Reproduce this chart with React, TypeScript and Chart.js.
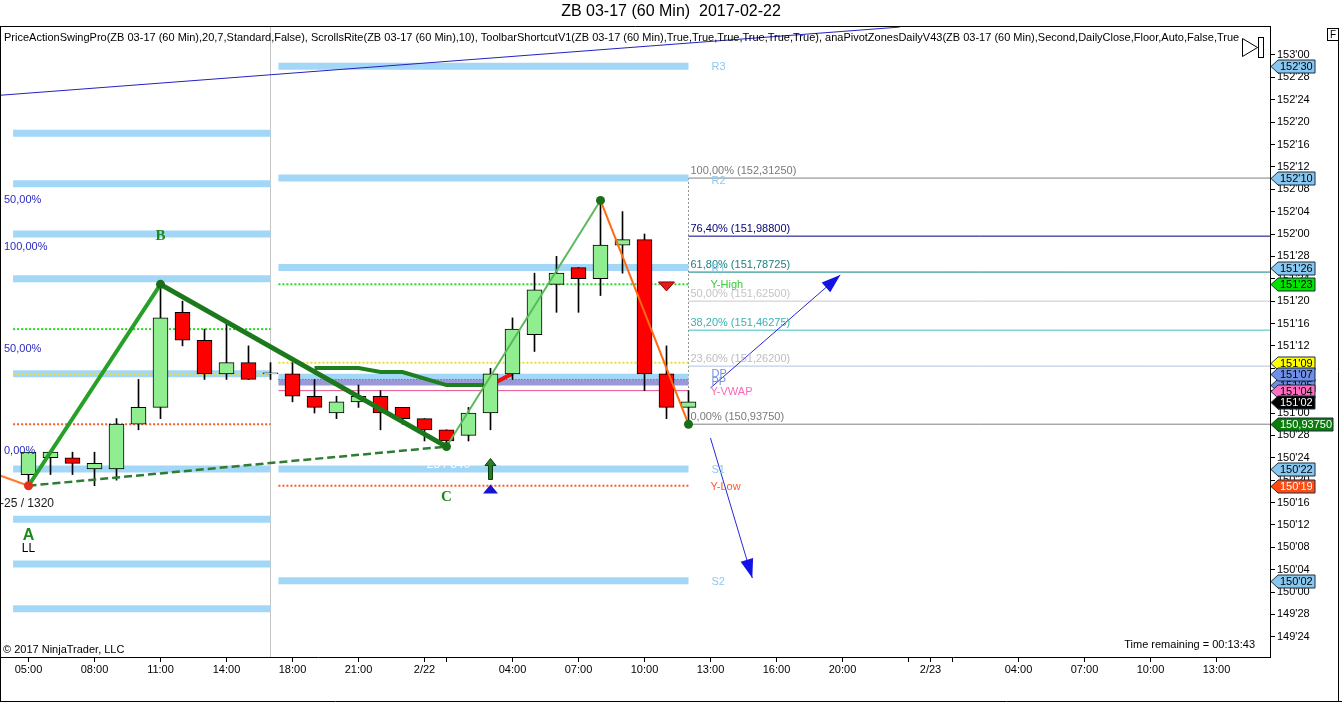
import React, { useEffect, useRef } from "react";
import { Chart, registerables } from "chart.js";

Chart.register(...registerables);

const SANS = "'Liberation Sans', Arial, sans-serif";
const SERIF = "'Liberation Serif', 'Times New Roman', serif";

// ---------- axes ----------
const X_MIN = -1.25;
const X_MAX = 56.432;
const Y_MIN = 149.637;
const Y_MAX = 153.162;

const X_TICK_POS = [0, 3, 6, 9, 12, 15, 18, 19, 22, 25, 28, 31, 34, 37, 40, 41, 42, 45, 48, 51, 54];
const X_TICK_LABELS = ["05:00", "08:00", "11:00", "14:00", "18:00", "21:00", "2/22", "", "04:00", "07:00", "10:00", "13:00", "16:00", "20:00", "", "2/23", "", "04:00", "07:00", "10:00", "13:00"];
const Y_TICK_LABELS = ["153'00", "152'28", "152'24", "152'20", "152'16", "152'12", "152'08", "152'04", "152'00", "151'28", "151'24", "151'20", "151'16", "151'12", "151'08", "151'04", "151'00", "150'28", "150'24", "150'20", "150'16", "150'12", "150'08", "150'04", "150'00", "149'28", "149'24"];

// ---------- candles (ZB 03-17, 60 min) ----------
const BAR_TIMES = ["05:00", "06:00", "07:00", "08:00", "09:00", "10:00", "11:00", "12:00", "13:00", "14:00", "15:00", "16:00", "18:00", "19:00", "20:00", "21:00", "22:00", "23:00", "00:00", "01:00", "02:00", "03:00", "04:00", "05:00", "06:00", "07:00", "08:00", "09:00", "10:00", "11:00", "12:00"];
const OPEN = [150.65625, 150.75, 150.75, 150.6875, 150.6875, 150.9375, 151.03125, 151.5625, 151.40625, 151.21875, 151.28125, 151.21875, 151.21875, 151.09375, 151.0, 151.0625, 151.09375, 151.03125, 150.96875, 150.90625, 150.875, 151.0, 151.21875, 151.4375, 151.71875, 151.8125, 151.75, 151.9375, 151.96875, 151.21875, 151.03125];
const HIGH = [150.78125, 150.78125, 150.78125, 150.78125, 150.96875, 151.1875, 151.71875, 151.625, 151.46875, 151.5, 151.375, 151.28125, 151.28125, 151.1875, 151.09375, 151.15625, 151.125, 151.03125, 150.96875, 150.90625, 151.03125, 151.25, 151.53125, 151.78125, 151.875, 151.8125, 152.1875, 152.125, 152.0, 151.375, 151.125];
const LOW = [150.59375, 150.65625, 150.65625, 150.59375, 150.625, 150.90625, 150.96875, 151.375, 151.1875, 151.1875, 151.1875, 151.1875, 151.0625, 151.0, 150.96875, 151.03125, 150.90625, 150.9375, 150.84375, 150.8125, 150.84375, 150.90625, 151.1875, 151.34375, 151.5625, 151.5625, 151.65625, 151.78125, 151.125, 150.96875, 150.9375];
const CLOSE = [150.78125, 150.78125, 150.71875, 150.71875, 150.9375, 151.03125, 151.53125, 151.40625, 151.21875, 151.28125, 151.1875, 151.21875, 151.09375, 151.03125, 151.0625, 151.09375, 151.0, 150.96875, 150.90625, 150.84375, 151.0, 151.21875, 151.46875, 151.6875, 151.78125, 151.75, 151.9375, 151.96875, 151.21875, 151.03125, 151.0625];

// ---------- swings ----------
const SWING_X = [-1.35, 0, 6, 19, 26, 30];
const SWING_Y = [150.6536, 150.59375, 151.71875, 150.8125, 152.1875, 150.9375];

// ScrollsRite line
const SR_X = [13, 15, 16, 17, 19, 21];
const SR_Y = [151.251, 151.251, 151.229, 151.229, 151.156, 151.156];
const SR_RED_X = [21, 22];
const SR_RED_Y = [151.156, 151.22];

// ---------- pivot zones ----------
const SESSION_BREAK = 11;
const LEFT_ZONE_RANGE = [-0.7, 11];
const LEFT_ZONES = [152.5625, 152.28125, 152.0, 151.75, 151.21875, 150.6875, 150.40625, 150.15625, 149.90625];
const RIGHT_ZONE_RANGE = [11.36, 30];
const RIGHT_ZONE_NAMES = ["R3", "R2", "R1", "S1", "S2"];
const RIGHT_ZONES = [152.9375, 152.3125, 151.8125, 150.6875, 150.0625];
const DP_BAND = 151.203;
const PP_BAND = 151.17;
const PP_LINE = 151.1875;

// prior-day levels
const LEFT_LEVELS = [151.46875, 151.21875, 150.9375];
const Y_HIGH = 151.71875;
const Y_MID = 151.28125;
const Y_LOW = 150.59375;
const Y_VWAP = 151.125;

// ---------- fibonacci ----------
const FIB_ANCHOR_X = 30;
const FIB_PCT = ["100,00%", "76,40%", "61,80%", "50,00%", "38,20%", "23,60%", "0,00%"];
const FIB_PRICE = [152.3125, 151.988, 151.78725, 151.625, 151.46275, 151.262, 150.9375];
const LEFT_FIB_PCT = ["50,00%", "100,00%", "50,00%", "0,00%"];
const LEFT_FIB_PRICE = [152.19, 151.927, 151.358, 150.788];

// ---------- drawings ----------
const TREND_X = [-1.3, 39.6];
const TREND_Y = [152.775, 153.156];
const ARROW_UP_X = [31, 36.9];
const ARROW_UP_Y = [151.14, 151.771];
const ARROW_DN_X = [31, 32.9];
const ARROW_DN_Y = [150.86, 150.078];
const SIGNAL_X = 21;
const SIGNAL_ARROW_Y = 150.69;
const SIGNAL_TRI_Y = 150.575;
const SELL_TRI_X = 29;
const SELL_TRI_Y = 151.707;

// ---------- right-axis price markers ----------
const MARKER_PRICES = [152.9375, 152.3125, 151.8125, 151.71875, 151.28125, 151.15625, 151.21875, 151.125, 151.0625, 150.9375, 150.6875, 150.59375, 150.0625];
const MARKER_KIND = ["pivot", "pivot", "pivot", "yhigh", "yellow", "dp", "dp", "vwap", "last", "fib", "pivot", "ylow", "pivot"];
const MARKER_STYLE: any = {
  pivot: ["#88c7ef", "#000"],
  yhigh: ["#00e400", "#000"],
  yellow: ["#ffff00", "#000"],
  dp: ["#6f8fe6", "#000"],
  vwap: ["#ff6ec0", "#000"],
  last: ["#000000", "#fff"],
  fib: ["#0b7d0b", "#fff"],
  ylow: ["#ff4a12", "#fff"],
};

const fmt32 = (v: number) => {
  const w = Math.floor(v + 1e-9);
  const f = Math.round((v - w) * 32);
  return `${w}'${String(f).padStart(2, "0")}`;
};
const parse32 = (s: string) => {
  const [w, f] = s.split("'");
  return Number(w) + Number(f) / 32;
};
const Y_TICKS = Y_TICK_LABELS.map(parse32);

const ZONE_BLUE = "#a3d7f7";

function seg(xs: number[], ys: number[], color: string, width: number, order: number, dash: number[] = []) {
  return {
    type: "line",
    data: xs.map((x, i) => ({ x, y: ys[i] })),
    borderColor: color,
    borderWidth: width,
    borderDash: dash,
    borderCapStyle: "butt",
    pointRadius: 0,
    fill: false,
    tension: 0,
    order,
  };
}

const overlay = {
  id: "overlay",
  beforeDatasetsDraw(chart: any) {
    const { ctx, chartArea: a, scales } = chart;
    const X = (v: number) => scales.x.getPixelForValue(v);
    const Y = (v: number) => scales.y.getPixelForValue(v);
    ctx.save();
    ctx.strokeStyle = "#c4c4c4";
    ctx.lineWidth = 1;
    const sx = Math.round(X(SESSION_BREAK)) + 0.5;
    ctx.beginPath();
    ctx.moveTo(sx, a.top);
    ctx.lineTo(sx, a.bottom);
    ctx.stroke();
    const fx = Math.round(X(FIB_ANCHOR_X)) + 0.5;
    ctx.strokeStyle = "#909090";
    ctx.setLineDash([2, 2]);
    ctx.beginPath();
    ctx.moveTo(fx, Y(FIB_PRICE[0]));
    ctx.lineTo(fx, Y(FIB_PRICE[FIB_PRICE.length - 1]));
    ctx.stroke();
    ctx.restore();
  },
  afterDatasetsDraw(chart: any) {
    const { ctx, scales } = chart;
    const X = (v: number) => scales.x.getPixelForValue(v);
    const Y = (v: number) => scales.y.getPixelForValue(v);
    const txt = (s: string, x: number, y: number, color: string, font: string, align = "left") => {
      ctx.fillStyle = color;
      ctx.font = font;
      ctx.textAlign = align;
      ctx.textBaseline = "middle";
      ctx.fillText(s, x, y);
    };
    ctx.save();

    // arrowheads
    const head = (xs: number[], ys: number[]) => {
      const x0 = X(xs[0]), y0 = Y(ys[0]), x1 = X(xs[1]), y1 = Y(ys[1]);
      const ang = Math.atan2(y1 - y0, x1 - x0);
      const L = 19, W = 6.5;
      const bx = x1 - L * Math.cos(ang), by = y1 - L * Math.sin(ang);
      ctx.fillStyle = "#1212e6";
      ctx.beginPath();
      ctx.moveTo(x1, y1);
      ctx.lineTo(bx + W * Math.sin(ang), by - W * Math.cos(ang));
      ctx.lineTo(bx - W * Math.sin(ang), by + W * Math.cos(ang));
      ctx.closePath();
      ctx.fill();
    };
    head(ARROW_UP_X, ARROW_UP_Y);
    head(ARROW_DN_X, ARROW_DN_Y);

    // signal arrow (green up)
    const gx = X(SIGNAL_X), gy = Y(SIGNAL_ARROW_Y);
    ctx.fillStyle = "#2a7d2a";
    ctx.strokeStyle = "#0d3d0d";
    ctx.lineWidth = 1;
    ctx.beginPath();
    ctx.moveTo(gx, gy - 10);
    ctx.lineTo(gx + 5.5, gy - 3);
    ctx.lineTo(gx + 2, gy - 3);
    ctx.lineTo(gx + 2, gy + 11);
    ctx.lineTo(gx - 2, gy + 11);
    ctx.lineTo(gx - 2, gy - 3);
    ctx.lineTo(gx - 5.5, gy - 3);
    ctx.closePath();
    ctx.fill();
    ctx.stroke();
    // blue up triangle
    const ty = Y(SIGNAL_TRI_Y);
    ctx.fillStyle = "#1414d2";
    ctx.beginPath();
    ctx.moveTo(gx - 7.5, ty + 4.5);
    ctx.lineTo(gx + 7.5, ty + 4.5);
    ctx.lineTo(gx, ty - 4.5);
    ctx.closePath();
    ctx.fill();
    // red down triangle
    const rx = X(SELL_TRI_X), ry = Y(SELL_TRI_Y);
    ctx.fillStyle = "#e51a1a";
    ctx.strokeStyle = "#8a0000";
    ctx.beginPath();
    ctx.moveTo(rx - 8, ry - 4.5);
    ctx.lineTo(rx + 8, ry - 4.5);
    ctx.lineTo(rx, ry + 4.5);
    ctx.closePath();
    ctx.fill();
    ctx.stroke();

    const f11 = `11px ${SANS}`;
    // fib labels
    const fibTxt = ["#7a7a7a", "#00007a", "#1d7f7f", "#c4c4c4", "#3ab2b2", "#bdbdbd", "#7a7a7a"];
    const fx = X(FIB_ANCHOR_X) + 2;
    FIB_PCT.forEach((p, i) => {
      const label = `${p} (${FIB_PRICE[i].toFixed(5).replace(".", ",")})`;
      txt(label, fx, Y(FIB_PRICE[i]) - 7, fibTxt[i], f11);
    });
    // pivot names
    const px = X(FIB_ANCHOR_X) + 23;
    RIGHT_ZONE_NAMES.forEach((n, i) => {
      txt(n, px, Y(RIGHT_ZONES[i]) + (n === "R2" ? 3 : 1), "#8ccaf0", f11);
    });
    txt("DP", px, Y(DP_BAND) - 3, "#6f8fe6", f11);
    txt("PP", px, Y(PP_BAND) - 1, "#6f8fe6", f11);
    txt("Y-High", px - 1, Y(Y_HIGH) + 1, "#3ccc3c", f11);
    txt("Y-VWAP", px - 1, Y(Y_VWAP) + 1, "#ff69b4", f11);
    txt("Y-Low", px - 1, Y(Y_LOW) + 1, "#ff5a2e", f11);

    // left fib labels
    LEFT_FIB_PCT.forEach((p, i) => txt(p, 4, Y(LEFT_FIB_PRICE[i]), "#2a2ac0", f11));

    // swing labels
    const bold = `bold 15px ${SERIF}`;
    const green = "#1b8a1b";
    txt("B", X(SWING_X[2]), Y(SWING_Y[2]) - 48, green, bold, "center");
    txt("A", X(SWING_X[1]), Y(SWING_Y[1]) + 50, green, `bold 16px ${SANS}`, "center");
    txt("LL", X(SWING_X[1]), Y(SWING_Y[1]) + 63, "#000", `12px ${SANS}`, "center");
    txt("C", X(SWING_X[3]), Y(SWING_Y[3]) + 51, green, bold, "center");
    txt("-25 / 1320", 0, Y(SWING_Y[1]) + 18, "#1a1a1a", `12px ${SANS}`);
    txt("25 / 840", X(SWING_X[3]) + 2, Y(SWING_Y[3]) + 18, "#ffffff", `12px ${SANS}`, "center");

    ctx.restore();
  },
  afterDraw(chart: any) {
    const { ctx, chartArea: a, scales } = chart;
    const Y = (v: number) => scales.y.getPixelForValue(v);
    ctx.save();
    ctx.strokeStyle = "#000";
    ctx.lineWidth = 1;
    // frame
    ctx.beginPath();
    ctx.moveTo(0.5, a.top + 0.5);
    ctx.lineTo(a.right + 0.5, a.top + 0.5);
    ctx.moveTo(0.5, a.top);
    ctx.lineTo(0.5, 702);
    ctx.moveTo(0, 701.5);
    ctx.lineTo(1342, 701.5);
    ctx.moveTo(1338.5, 41);
    ctx.lineTo(1338.5, 702);
    ctx.stroke();

    // right axis markers
    const x0 = a.right + 1;
    MARKER_PRICES.forEach((p, i) => {
      const kind = MARKER_KIND[i];
      const [bg, fg] = MARKER_STYLE[kind];
      const label = kind === "fib" ? p.toFixed(5).replace(".", ",") : fmt32(p);
      const w = kind === "fib" ? 62 : 44;
      const y = Math.round(Y(p)) + 0.5;
      const h = 6.5;
      ctx.beginPath();
      ctx.moveTo(x0, y);
      ctx.lineTo(x0 + 7, y - h);
      ctx.lineTo(x0 + w, y - h);
      ctx.lineTo(x0 + w, y + h);
      ctx.lineTo(x0 + 7, y + h);
      ctx.closePath();
      ctx.fillStyle = bg;
      ctx.fill();
      ctx.strokeStyle = "#1c2c3c";
      ctx.stroke();
      ctx.fillStyle = fg;
      ctx.font = `11px ${SANS}`;
      ctx.textAlign = "left";
      ctx.textBaseline = "middle";
      ctx.fillText(label, x0 + 9, y + 0.5);
    });

    // texts
    ctx.fillStyle = "#000";
    ctx.textBaseline = "middle";
    ctx.textAlign = "center";
    ctx.font = `16px ${SANS}`;
    ctx.fillText("ZB 03-17 (60 Min)  2017-02-22", 671, 12);
    ctx.textAlign = "left";
    ctx.font = `11px ${SANS}`;
    ctx.fillText(
      "PriceActionSwingPro(ZB 03-17 (60 Min),20,7,Standard,False), ScrollsRite(ZB 03-17 (60 Min),10), ToolbarShortcutV1(ZB 03-17 (60 Min),True,True,True,True,True,True), anaPivotZonesDailyV43(ZB 03-17 (60 Min),Second,DailyClose,Floor,Auto,False,True",
      4, 38, 1236
    );
    ctx.fillText("© 2017 NinjaTrader, LLC", 3, 650, 124);
    ctx.textAlign = "right";
    ctx.fillText("Time remaining = 00:13:43", 1255, 645);

    // scroll buttons
    ctx.strokeStyle = "#000";
    ctx.beginPath();
    ctx.moveTo(1242.5, 38.5);
    ctx.lineTo(1257.5, 47.5);
    ctx.lineTo(1242.5, 56.5);
    ctx.closePath();
    ctx.stroke();
    ctx.strokeRect(1258.5, 37.5, 5, 20);
    ctx.strokeRect(1327.5, 28.5, 11, 12);
    ctx.textAlign = "center";
    ctx.font = `10px ${SANS}`;
    ctx.fillText("F", 1333, 35);
    ctx.restore();
  },
};

function makeConfig(): any {
  const idx = BAR_TIMES.map((_, i) => i);
  const datasets: any[] = [];

  // zones
  LEFT_ZONES.forEach((p) => datasets.push(seg(LEFT_ZONE_RANGE, [p, p], ZONE_BLUE, 7, 100)));
  RIGHT_ZONES.forEach((p) => datasets.push(seg(RIGHT_ZONE_RANGE, [p, p], ZONE_BLUE, 7, 100)));
  datasets.push(seg(RIGHT_ZONE_RANGE, [DP_BAND, DP_BAND], ZONE_BLUE, 6, 99));
  datasets.push(seg(RIGHT_ZONE_RANGE, [PP_BAND, PP_BAND], "#9a98d6", 6, 98));
  datasets.push(seg(RIGHT_ZONE_RANGE, [PP_LINE, PP_LINE], "#4a4a80", 1, 97, [1, 2]));

  // prior-day dotted levels
  const leftCols = ["#22dd22", "#eedd22", "#ff5a2a"];
  LEFT_LEVELS.forEach((p, i) => datasets.push(seg(LEFT_ZONE_RANGE, [p, p], leftCols[i], 2, 90, [2, 2])));
  datasets.push(seg(RIGHT_ZONE_RANGE, [Y_HIGH, Y_HIGH], "#22dd22", 2, 90, [2, 2]));
  datasets.push(seg(RIGHT_ZONE_RANGE, [Y_MID, Y_MID], "#eedd22", 2, 90, [2, 2]));
  datasets.push(seg(RIGHT_ZONE_RANGE, [Y_LOW, Y_LOW], "#ff5a2a", 2, 90, [2, 2]));
  datasets.push(seg(RIGHT_ZONE_RANGE, [Y_VWAP, Y_VWAP], "#e8508a", 1, 90));

  // fib lines
  const fibCols = ["#808080", "#000080", "#008080", "#c8c8c8", "#40c0c0", "#b0c4de", "#808080"];
  FIB_PRICE.forEach((p, i) => datasets.push(seg([FIB_ANCHOR_X, X_MAX + 1], [p, p], fibCols[i], 1, 88)));

  // trend line + ScrollsRite
  datasets.push(seg(TREND_X, TREND_Y, "#2222c0", 1, 85));
  datasets.push(seg(SR_X, SR_Y, "#1f7f1f", 4, 80));
  datasets.push(seg(SR_RED_X, SR_RED_Y, "#ee1111", 4, 80));

  // candles
  datasets.push({
    type: "bar",
    data: idx.map((i) => ({ x: i, y: [LOW[i], HIGH[i]] })),
    backgroundColor: "#000",
    barThickness: 1,
    grouped: false,
    order: 50,
  });
  datasets.push({
    type: "bar",
    data: idx.map((i) => ({ x: i, y: [OPEN[i], CLOSE[i]] })),
    backgroundColor: idx.map((i) => (CLOSE[i] >= OPEN[i] ? "#90ee90" : "#ff0000")),
    borderColor: "#000",
    borderWidth: 1,
    borderSkipped: false,
    barThickness: 15,
    minBarLength: 1,
    grouped: false,
    order: 40,
  });

  // swing zigzag
  const swingCols = ["#ff7a2a", "#27a027", "#1c781c", "#5cb85c", "#ff6a10"];
  const swingW = [2, 4, 5, 2, 2];
  for (let i = 0; i < SWING_X.length - 1; i++) {
    datasets.push(seg([SWING_X[i], SWING_X[i + 1]], [SWING_Y[i], SWING_Y[i + 1]], swingCols[i], swingW[i], 30 - i));
  }
  datasets.push(seg([SWING_X[1], SWING_X[3]], [SWING_Y[1], SWING_Y[3]], "#2e7d32", 2.5, 31, [8, 4]));
  datasets.push({
    type: "line",
    data: SWING_X.slice(1).map((x, i) => ({ x, y: SWING_Y[i + 1] })),
    showLine: false,
    pointRadius: 4.5,
    pointBackgroundColor: SWING_X.slice(1).map((_, i) => (i === 0 ? "#e0301e" : "#1a6e1a")),
    pointBorderWidth: 0,
    order: 20,
  });

  // drawn arrows shafts
  datasets.push(seg(ARROW_UP_X, ARROW_UP_Y, "#2828d8", 1, 15));
  datasets.push(seg(ARROW_DN_X, ARROW_DN_Y, "#2828d8", 1, 15));

  return {
    type: "bar",
    data: { datasets },
    plugins: [overlay],
    options: {
      animation: false,
      responsive: false,
      events: [],
      layout: { autoPadding: false, padding: { top: 26, left: 1, right: 0, bottom: 0 } },
      plugins: { legend: { display: false }, title: { display: false }, tooltip: { enabled: false } },
      scales: {
        x: {
          type: "linear",
          min: X_MIN,
          max: X_MAX,
          offset: false,
          afterBuildTicks: (s: any) => {
            s.ticks = X_TICK_POS.map((v) => ({ value: v }));
          },
          afterFit: (s: any) => {
            s.height = 45;
            s.paddingLeft = 0;
            s.paddingRight = 0;
          },
          ticks: {
            autoSkip: false,
            maxRotation: 0,
            minRotation: 0,
            padding: 1,
            color: "#000",
            font: { family: SANS, size: 11 },
            callback: (_v: any, i: number) => X_TICK_LABELS[i],
          },
          grid: { offset: false, drawOnChartArea: false, drawTicks: true, tickLength: 5, color: "#000" },
          border: { display: true, color: "#000" },
        },
        y: {
          type: "linear",
          position: "right",
          min: Y_MIN,
          max: Y_MAX,
          afterBuildTicks: (s: any) => {
            s.ticks = Y_TICKS.map((v) => ({ value: v }));
          },
          afterFit: (s: any) => {
            s.width = 72;
            s.paddingTop = 0;
            s.paddingBottom = 0;
          },
          ticks: {
            autoSkip: false,
            padding: 2,
            color: "#000",
            font: { family: SANS, size: 11 },
            callback: (v: any) => fmt32(Number(v)),
          },
          grid: { offset: false, drawOnChartArea: false, drawTicks: true, tickLength: 5, color: "#000" },
          border: { display: true, color: "#000" },
        },
      },
    },
  };
}

export default function App() {
  const ref = useRef<HTMLCanvasElement>(null);
  useEffect(() => {
    document.body.style.margin = "0";
    document.body.style.background = "#fff";
    const chart = new Chart(ref.current as HTMLCanvasElement, makeConfig());
    return () => chart.destroy();
  }, []);
  return (
    <div style={{ width: 1342, height: 702, background: "#fff", overflow: "hidden" }}>
      <canvas ref={ref} width={1342} height={702} style={{ display: "block" }} />
    </div>
  );
}
